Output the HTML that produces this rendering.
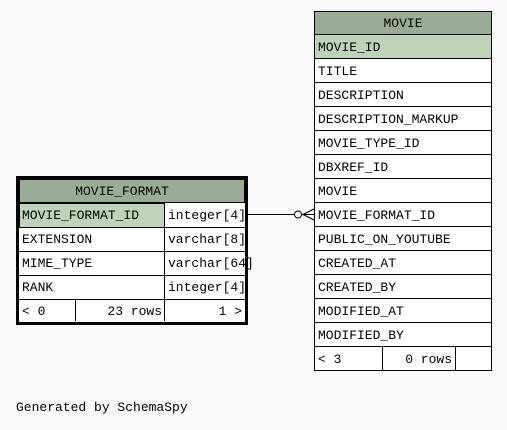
<!DOCTYPE html>
<html><head><style>
body{margin:0;background:#f9f9f9;}
svg text{font-family:"Liberation Mono","DejaVu Sans Mono",monospace;font-size:13px;fill:#000;}
</style></head><body>
<svg width="507" height="425" xmlns="http://www.w3.org/2000/svg">
<rect width="507" height="425" fill="#f9f9f9"/>
<!-- MOVIE table -->
<g stroke="#000" stroke-width="1">
<rect x="314.5" y="11.5" width="177" height="23" fill="#9aab96"/>
<rect x="314.5" y="34.5" width="177" height="24" fill="#bfd3b9"/>
<rect x="314.5" y="58.5" width="177" height="312" fill="#fff"/>
<g fill="none">
<line x1="314" y1="82.5" x2="492" y2="82.5"/><line x1="314" y1="106.5" x2="492" y2="106.5"/>
<line x1="314" y1="130.5" x2="492" y2="130.5"/><line x1="314" y1="154.5" x2="492" y2="154.5"/>
<line x1="314" y1="178.5" x2="492" y2="178.5"/><line x1="314" y1="202.5" x2="492" y2="202.5"/>
<line x1="314" y1="226.5" x2="492" y2="226.5"/><line x1="314" y1="250.5" x2="492" y2="250.5"/>
<line x1="314" y1="274.5" x2="492" y2="274.5"/><line x1="314" y1="298.5" x2="492" y2="298.5"/>
<line x1="314" y1="322.5" x2="492" y2="322.5"/><line x1="314" y1="346.5" x2="492" y2="346.5"/>
<line x1="382.5" y1="346" x2="382.5" y2="371"/><line x1="455.5" y1="346" x2="455.5" y2="371"/>
</g></g>
<text x="403" y="27" text-anchor="middle">MOVIE</text>
<text x="318" y="51">MOVIE_ID</text>
<text x="318" y="75">TITLE</text>
<text x="318" y="99">DESCRIPTION</text>
<text x="318" y="123">DESCRIPTION_MARKUP</text>
<text x="318" y="147">MOVIE_TYPE_ID</text>
<text x="318" y="171">DBXREF_ID</text>
<text x="318" y="195">MOVIE</text>
<text x="318" y="219">MOVIE_FORMAT_ID</text>
<text x="318" y="243">PUBLIC_ON_YOUTUBE</text>
<text x="318" y="267">CREATED_AT</text>
<text x="318" y="291">CREATED_BY</text>
<text x="318" y="315">MODIFIED_AT</text>
<text x="318" y="339">MODIFIED_BY</text>
<text x="318" y="363">&lt; 3</text>
<text x="452" y="363" text-anchor="end">0 rows</text>
<!-- MOVIE_FORMAT table -->
<rect x="17.5" y="177.5" width="229" height="146" fill="#fff" stroke="#000" stroke-width="3"/>
<g stroke="#000" stroke-width="1">
<rect x="19.5" y="179.5" width="225" height="23" fill="#9aab96"/>
<rect x="19.5" y="203.5" width="145" height="24" fill="#bfd3b9"/>
<g fill="none">
<line x1="19" y1="227.5" x2="245" y2="227.5"/><line x1="19" y1="251.5" x2="245" y2="251.5"/>
<line x1="19" y1="275.5" x2="245" y2="275.5"/><line x1="19" y1="299.5" x2="245" y2="299.5"/>
<line x1="164.5" y1="203" x2="164.5" y2="321"/><line x1="75.5" y1="299" x2="75.5" y2="321"/>
</g></g>
<text x="122" y="195" text-anchor="middle">MOVIE_FORMAT</text>
<text x="22" y="219">MOVIE_FORMAT_ID</text>
<text x="168" y="219">integer[4]</text>
<text x="22" y="243">EXTENSION</text>
<text x="168" y="243">varchar[8]</text>
<text x="22" y="267">MIME_TYPE</text>
<text x="168" y="267">varchar[64]</text>
<text x="22" y="291">RANK</text>
<text x="168" y="291">integer[4]</text>
<text x="22" y="315">&lt; 0</text>
<text x="162" y="315" text-anchor="end">23 rows</text>
<text x="242" y="315" text-anchor="end">1 &gt;</text>
<!-- connector -->
<g stroke="#000" stroke-width="1" fill="none">
<line x1="247" y1="214.5" x2="294" y2="214.5"/>
<circle cx="298" cy="214.5" r="3.5" fill="#fff"/>
<line x1="302" y1="214.5" x2="314" y2="214.5"/>
<line x1="303" y1="214.5" x2="314" y2="209"/>
<line x1="303" y1="214.5" x2="314" y2="220"/>
</g>
<text x="16" y="411">Generated by SchemaSpy</text>
</svg>
</body></html>
